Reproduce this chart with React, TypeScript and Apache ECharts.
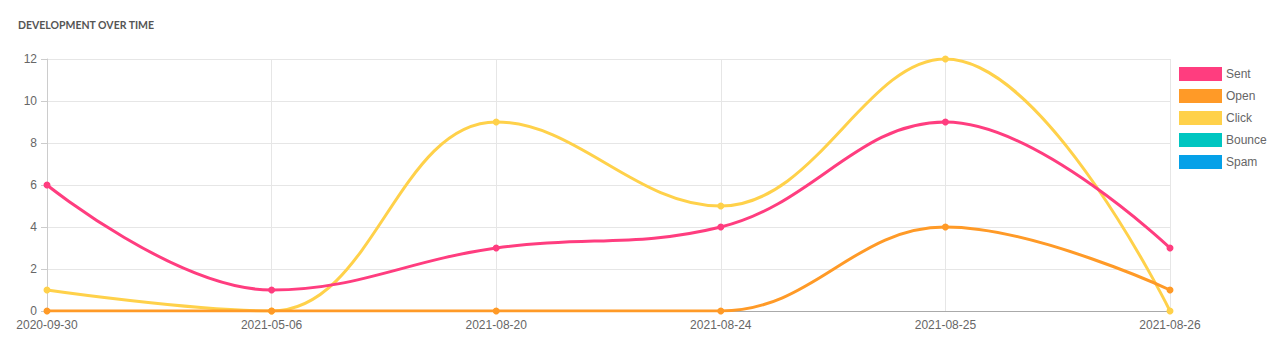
import React, { useEffect, useRef } from "react";
import * as echarts from "echarts";

const categories = ["2020-09-30", "2021-05-06", "2021-08-20", "2021-08-24", "2021-08-25", "2021-08-26"];
const sent = [6, 1, 3, 4, 9, 3];
const open = [0, 0, 0, 0, 4, 1];
const click = [1, 0, 9, 5, 12, 0];
const bounce: number[] = [];
const spam: number[] = [];
const seriesNames = ["Sent", "Open", "Click", "Bounce", "Spam"];
const colors = ["#ff3d7f", "#ff9a27", "#ffd14a", "#00c6c1", "#05a1e8"];

export default function App() {
  const ref = useRef<HTMLDivElement>(null);
  useEffect(() => {
    if (!ref.current) return;
    const chart = echarts.init(ref.current, null, { renderer: "svg" });
    const datas = [sent, open, click, bounce, spam];
    chart.setOption({
      animation: false,
      textStyle: { fontFamily: "Liberation Sans, Arial, sans-serif" },
      title: {
        text: "DEVELOPMENT OVER TIME",
        left: 5,
        top: 6,
        textStyle: { fontSize: 10.5, fontWeight: "bold", color: "#555", fontFamily: "Lato, sans-serif" },
      },
      legend: {
        orient: "vertical",
        left: 1166,
        top: 54,
        icon: "rect",
        itemWidth: 43,
        itemHeight: 14,
        itemGap: 8,
        data: seriesNames,
        textStyle: { fontSize: 12, color: "#666", padding: [0, 0, 0, -1] },
      },
      grid: { left: 39, right: 106, top: 51, bottom: 34, containLabel: false },
      xAxis: {
        type: "category",
        data: categories,
        boundaryGap: false,
        axisLine: { lineStyle: { color: "#aaa", width: 1 } },
        axisTick: { show: false },
        axisLabel: { color: "#666", fontSize: 12, margin: 8, interval: 0 },
        splitLine: { show: true, lineStyle: { color: "#e6e6e6" } },
      },
      yAxis: {
        type: "value",
        min: 0,
        max: 12,
        interval: 2,
        axisLine: { show: true, lineStyle: { color: "#ccc", width: 1 } },
        axisTick: { show: true, length: 6, lineStyle: { color: "#ccc" } },
        axisLabel: { color: "#666", fontSize: 12, margin: 10 },
        splitLine: { show: true, lineStyle: { color: "#e6e6e6" } },
      },
      series: seriesNames.map((name, i) => ({
        name,
        type: "line",
        data: datas[i],
        smooth: 0.4,
        symbol: "circle",
        symbolSize: 7,
        z: 10 - i,
        lineStyle: { width: 3, color: colors[i] },
        itemStyle: { color: colors[i] },
      })),
    });
    return () => chart.dispose();
  }, []);
  return <div ref={ref} style={{ width: 1268, height: 337 }} />;
}
